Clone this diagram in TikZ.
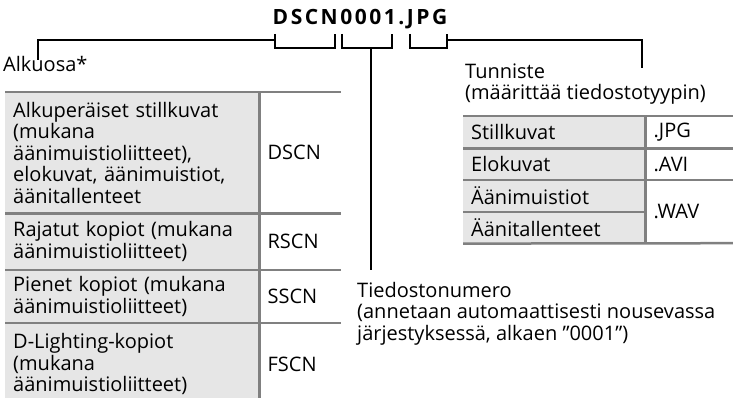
\documentclass[tikz,border=0pt]{standalone}
\usepackage{fontspec}
\setmainfont{Open Sans}
\newfontfamily\titlefont[LetterSpace=12]{Open Sans}
\usetikzlibrary{positioning}
\definecolor{rulegray}{RGB}{128,128,128}
\definecolor{cellgray}{RGB}{230,230,230}

\begin{document}
\begin{tikzpicture}[x=1pt, y=-1pt,
  font=\fontsize{20}{21.5}\selectfont,
  lead/.style={draw=black, line width=2pt},
  gridline/.style={draw=rulegray, line width=2.5pt},
  caption/.style={anchor=base west, align=left, inner sep=0pt},
  lcell/.style={fill=cellgray, anchor=north west, text width=#1, align=left,
                inner xsep=8pt, inner ysep=0pt},
  rcell/.style={anchor=north west, text width=#1, align=left,
                inner xsep=8pt, inner ysep=0pt}
]
  \useasboundingbox (0,0) rectangle (733,398);

  % file name and its three parts
  \node[anchor=base, font={\titlefont\bfseries\fontsize{21}{25}\selectfont}] (name) at (360,25) {DSCN0001.JPG};
  \coordinate (pre-l) at (275,34);  \coordinate (pre-r) at (335,34);
  \coordinate (num-l) at (342,34);  \coordinate (num-r) at (392,34);
  \coordinate (ext-l) at (410,34);  \coordinate (ext-r) at (447,34);
  \draw[lead] (pre-l) -- ++(0,14) -| (pre-r);
  \draw[lead] (num-l) -- ++(0,14) -| (num-r);
  \draw[lead] (ext-l) -- ++(0,14) -| (ext-r);

  % captions (base = last line)
  \node[caption] (prefix) at (3,72) {Alkuosa*};
  \node[caption] (ext) at (465,100) {Tunniste\\(määrittää tiedostotyypin)};
  \node[caption] (num) at (357,340) {Tiedostonumero\\(annetaan automaattisesti nousevassa\\järjestyksessä, alkaen ”0001”)};

  \coordinate (pre-join) at (275,40);
  \coordinate (pre-end) at (38,60);
  \coordinate (ext-join) at (447,40);
  \coordinate (ext-end) at (642,68);
  \coordinate (num-mid) at (371,48);
  \coordinate (num-end) at (371,270);
  \draw[lead] (pre-end) |- (pre-join);
  \draw[lead] (ext-join) -| (ext-end);
  \draw[lead] (num-mid) -- (num-end);

  % prefix table
  \node[lcell=238pt, minimum height=121pt] (orig) at (5,92)
    {Alkuperäiset stillkuvat\\(mukana\\äänimuistioliitteet),\\elokuvat, äänimuistiot,\\äänitallenteet};
  \node[rcell=65pt, minimum height=121pt, right=0pt of orig] (origcode) {DSCN};
  \node[lcell=238pt, minimum height=56pt, below=0pt of orig] (crop)
    {Rajatut kopiot (mukana\\äänimuistioliitteet)};
  \node[rcell=65pt, minimum height=56pt, right=0pt of crop] (cropcode) {RSCN};
  \node[lcell=238pt, minimum height=53pt, below=0pt of crop] (small)
    {Pienet kopiot (mukana\\äänimuistioliitteet)};
  \node[rcell=65pt, minimum height=53pt, right=0pt of small] (smallcode) {SSCN};
  \node[lcell=238pt, minimum height=82pt, below=0pt of small] (dlight)
    {D-Lighting-kopiot\\(mukana\\äänimuistioliitteet)};
  \node[rcell=65pt, minimum height=82pt, right=0pt of dlight] (dlightcode) {FSCN};

  \foreach \row/\code in {orig/origcode, crop/cropcode, small/smallcode, dlight/dlightcode}
    \draw[gridline] (\row.north west) -- (\code.north east);
  \draw[gridline] (origcode.north west) -- (dlightcode.south west);

  % extension table
  \node[lcell=166pt, minimum height=32pt] (still) at (463,116) {Stillkuvat};
  \node[rcell=72pt, minimum height=32pt, right=0pt of still] (jpg) {.JPG};
  \node[lcell=166pt, minimum height=31pt, below=0pt of still] (movie) {Elokuvat};
  \node[rcell=72pt, minimum height=31pt, right=0pt of movie] (avi) {.AVI};
  \node[lcell=166pt, minimum height=32pt, below=0pt of movie] (memo) {Äänimuistiot};
  \node[lcell=166pt, minimum height=31pt, below=0pt of memo] (rec) {Äänitallenteet};
  \node[rcell=72pt, minimum height=63pt, anchor=north west] (wav) at (memo.north east) {.WAV};

  \foreach \row/\code in {still/jpg, movie/avi, memo/wav}
    \draw[gridline] (\row.north west) -- (\code.north east);
  \draw[gridline] (rec.north west) -- (rec.north east);
  \draw[gridline] (rec.south west) -- (wav.south east);
  \draw[gridline] (jpg.north west) -- (wav.south west);
\end{tikzpicture}
\end{document}
